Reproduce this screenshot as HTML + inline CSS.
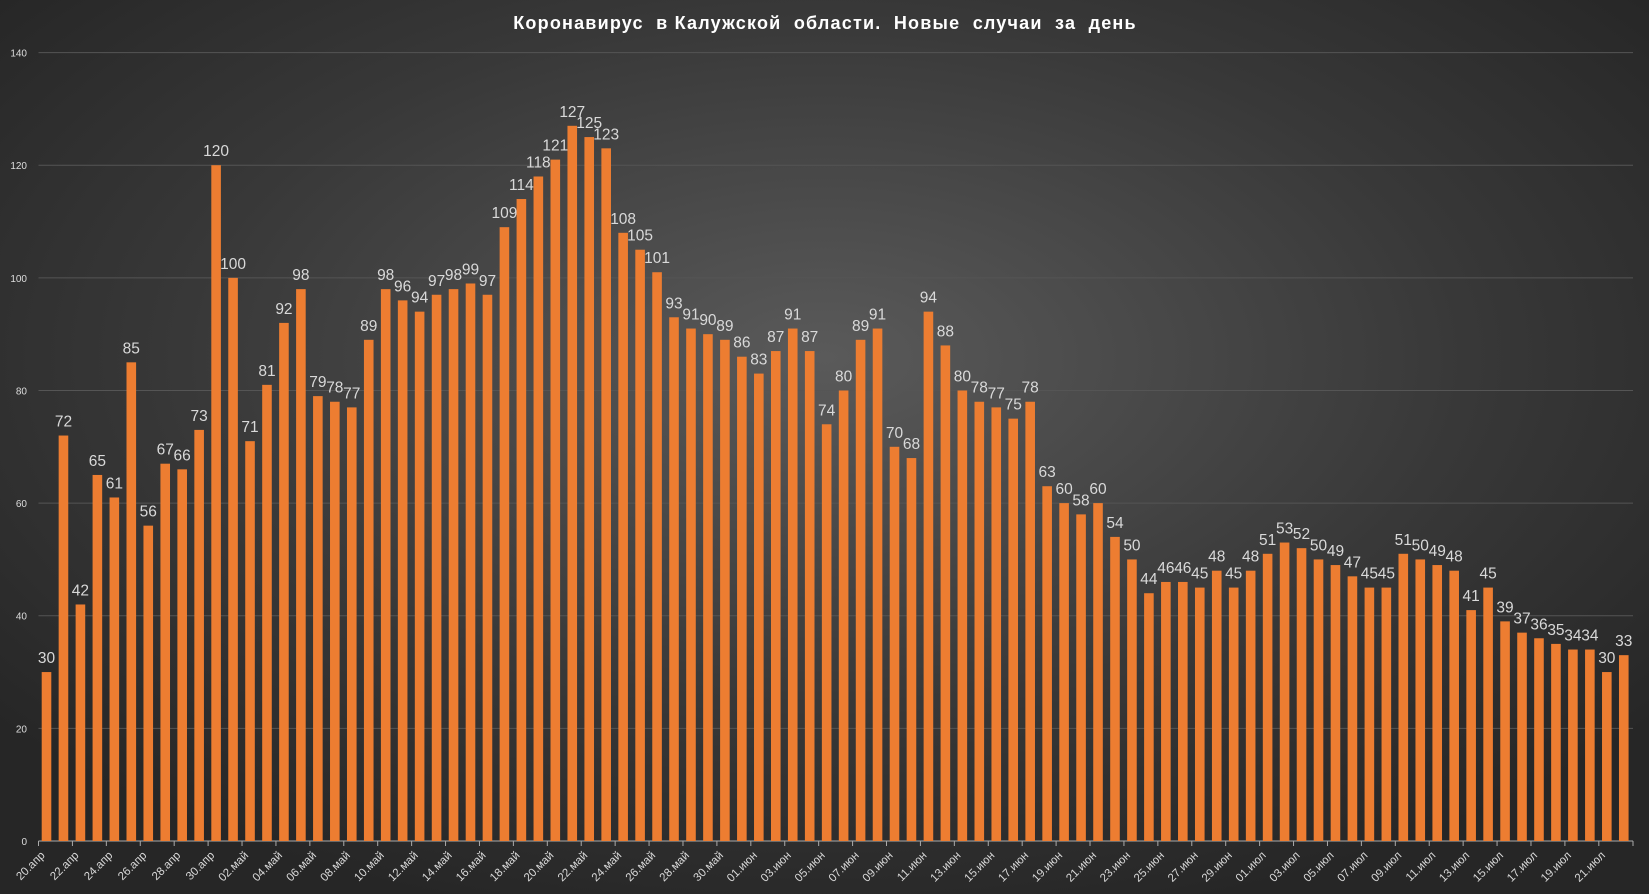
<!DOCTYPE html>
<html><head><meta charset="utf-8"><style>
html,body{margin:0;padding:0;width:1649px;height:894px;overflow:hidden;background:#2a2a2a}
svg{display:block}
</style></head><body>
<svg id="c" width="1649" height="894" xmlns="http://www.w3.org/2000/svg">
<defs><radialGradient id="bg" cx="50%" cy="40%" r="65%"><stop offset="0" stop-color="#5a5a5a"/><stop offset="0.6" stop-color="#383838"/><stop offset="1" stop-color="#262626"/></radialGradient></defs>
<rect width="1649" height="894" fill="url(#bg)"/>
<text x="825" y="29" text-anchor="middle" fill="#fff" font-family="Liberation Sans, sans-serif" font-weight="bold" font-size="18" letter-spacing="1.2" style="white-space:pre">Коронавирус  в Калужской  области.  Новые  случаи  за  день</text>
<g id="g"></g>
</svg>
<script>
var v=[30,72,42,65,61,85,56,67,66,73,120,100,71,81,92,98,79,78,77,89,98,96,94,97,98,99,97,109,114,118,121,127,125,123,108,105,101,93,91,90,89,86,83,87,91,87,74,80,89,91,70,68,94,88,80,78,77,75,78,63,60,58,60,54,50,44,46,46,45,48,45,48,51,53,52,50,49,47,45,45,51,50,49,48,41,45,39,37,36,35,34,34,30,33];
var y0=841,ys=(841-52.6)/140,x0=38.5,sl=16.96,s='';
var F='font-family="Liberation Sans, sans-serif"';
for(var k=0;k<=140;k+=20){var y=y0-k*ys;
 if(k>0)s+='<line x1="'+x0+'" x2="1633" y1="'+y+'" y2="'+y+'" stroke="#555" stroke-width="1"/>';
 s+='<text x="27" y="'+(y+4)+'" text-anchor="end" fill="#ddd" font-size="10" '+F+'>'+k+'</text>';}
s+='<line x1="'+x0+'" x2="1633" y1="'+y0+'" y2="'+y0+'" stroke="#aaa" stroke-width="1"/>';
var mon=[['апр',20,30],['май',1,31],['июн',1,30],['июл',1,22]],d=[];
mon.forEach(function(m){for(var i=m[1];i<=m[2];i++)d.push((i<10?'0':'')+i+'.'+m[0]);});
for(var i=0;i<v.length;i++){var x=x0+i*sl+3.2,h=v[i]*ys;
 s+='<rect x="'+x+'" y="'+(y0-h)+'" width="9.6" height="'+h+'" fill="#ed7d31"/>';
 s+='<text x="'+(x+4.8)+'" y="'+(y0-h-9)+'" text-anchor="middle" fill="#d9d9d9" font-size="15.5" '+F+'>'+v[i]+'</text>';
 if(i%2==0){var tx=x0+i*sl;
  s+='<line x1="'+tx+'" x2="'+tx+'" y1="'+y0+'" y2="'+(y0+5)+'" stroke="#aaa"/>';
  s+='<text transform="translate('+(tx+7)+','+(y0+15)+') rotate(-45)" text-anchor="end" fill="#d9d9d9" font-size="11.5" '+F+'>'+d[i]+'</text>';}}
s+='<line x1="1633" x2="1633" y1="'+y0+'" y2="'+(y0+5)+'" stroke="#aaa"/>';
document.getElementById('g').innerHTML=s;
</script>
</body></html>
